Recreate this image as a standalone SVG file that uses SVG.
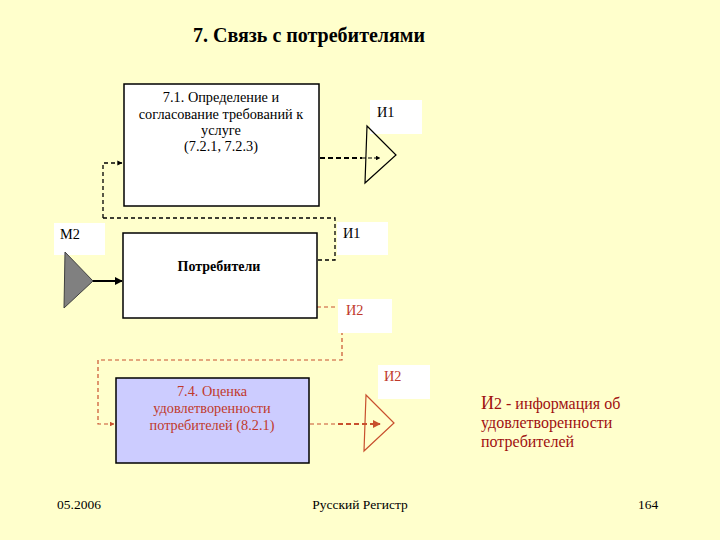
<svg xmlns="http://www.w3.org/2000/svg" width="720" height="540" viewBox="0 0 720 540" font-family="'Liberation Serif','DejaVu Serif',serif">
<style>
text{font-family:'Liberation Serif','DejaVu Serif',serif;}
.box{stroke:#000;stroke-width:1.5;}
.lbl{fill:#fff;stroke:none;}
.t13{font-size:14.3px;fill:#000;}
.red{fill:#C0392B;}
.blk{fill:none;stroke:#000;stroke-width:1.3;stroke-dasharray:4,3;}
.rd{fill:none;stroke:#C8502E;stroke-width:1.2;stroke-dasharray:4,3;}
</style>
<defs>
<marker id="ab" viewBox="0 0 10 10" refX="9" refY="5" markerWidth="4" markerHeight="4" orient="auto"><path d="M0,0L10,5L0,10z" fill="#000"/></marker>
<marker id="ar" viewBox="0 0 10 10" refX="9" refY="5" markerWidth="4" markerHeight="4" orient="auto"><path d="M0,0L10,5L0,10z" fill="#C8502E"/></marker>
</defs>
<rect width="720" height="540" fill="#FFFFCC"/>
<text x="309" y="42" text-anchor="middle" font-size="20" font-weight="bold">7. Связь с потребителями</text>

<g id="connectors">
<path class="blk" d="M103,218 V163 H122" marker-end="url(#ab)"/>
<path class="blk" d="M103,218 H335 V260 H318"/>
<path d="M320,158 H362" fill="none" stroke="#000" stroke-width="2" stroke-dasharray="5,3"/>
<path d="M362,158 H380" fill="none" stroke="#000" stroke-width="1.2" stroke-dasharray="4,2" marker-end="url(#ab)"/>
<path d="M93,281 H122" fill="none" stroke="#000" stroke-width="2" marker-end="url(#ab)"/>
<path class="rd" d="M317,307 H342 V360 H98 V424 H114" marker-end="url(#ar)"/>
<path class="rd" d="M310,424 H338"/>
<path d="M338,424 H380" fill="none" stroke="#C8502E" stroke-width="2" stroke-dasharray="5,3" marker-end="url(#ar)"/>
</g>

<g id="n71">
<rect class="box" x="124" y="84" width="195" height="122" fill="#fff"/>
<text class="t13" x="221" y="102" text-anchor="middle">7.1. Определение и</text>
<text class="t13" x="221" y="119" text-anchor="middle">согласование требований  к</text>
<text class="t13" x="221" y="135" text-anchor="middle">услуге</text>
<text class="t13" x="221" y="151" text-anchor="middle">(7.2.1, 7.2.3)</text>
</g>

<g id="i1a">
<rect class="lbl" x="370" y="100" width="52" height="34"/>
<text class="t13" x="377" y="117">И1</text>
<path d="M367,126 L396,155 L365,183 Z" fill="none" stroke="#000" stroke-width="1.2"/>
</g>

<g id="i1b">
<rect class="lbl" x="337" y="222" width="51" height="33"/>
<text class="t13" x="343" y="238">И1</text>
</g>

<g id="m2">
<rect class="lbl" x="54" y="223" width="51" height="32"/>
<text class="t13" x="60" y="239">М2</text>
<path d="M65,252 L93,281 L64,308 Z" fill="#808080" stroke="#404040" stroke-width="1"/>
</g>

<g id="consumers">
<rect class="box" x="123" y="233" width="194" height="85" fill="#fff"/>
<text x="219" y="271" text-anchor="middle" font-size="14" font-weight="bold">Потребители</text>
</g>

<g id="i2a">
<rect class="lbl" x="338" y="299" width="54" height="34"/>
<text class="t13 red" x="346" y="315">И2</text>
</g>

<g id="n74">
<rect class="box" x="116" y="378" width="193" height="85" fill="#CCCCFF"/>
<text class="t13 red" x="212" y="396" text-anchor="middle">7.4. Оценка</text>
<text class="t13 red" x="212" y="413" text-anchor="middle">удовлетворенности</text>
<text class="t13 red" x="212" y="430" text-anchor="middle">потребителей (8.2.1)</text>
</g>

<g id="i2b">
<rect class="lbl" x="378" y="365" width="52" height="34"/>
<text class="t13 red" x="384" y="381">И2</text>
<path d="M366,395 L394,423 L364,451 Z" fill="none" stroke="#C8502E" stroke-width="1.2"/>
</g>

<g id="legend" fill="#A01010" font-size="16">
<text x="481" y="409"><tspan font-size="18">И</tspan>2 - информация об</text>
<text x="481" y="428">удовлетворенности</text>
<text x="481" y="447">потребителей</text>
</g>

<text x="57" y="509" font-size="13.5">05.2006</text>
<text x="360" y="509" font-size="13.5" text-anchor="middle">Русский Регистр</text>
<text x="638" y="509" font-size="13.5">164</text>
</svg>
